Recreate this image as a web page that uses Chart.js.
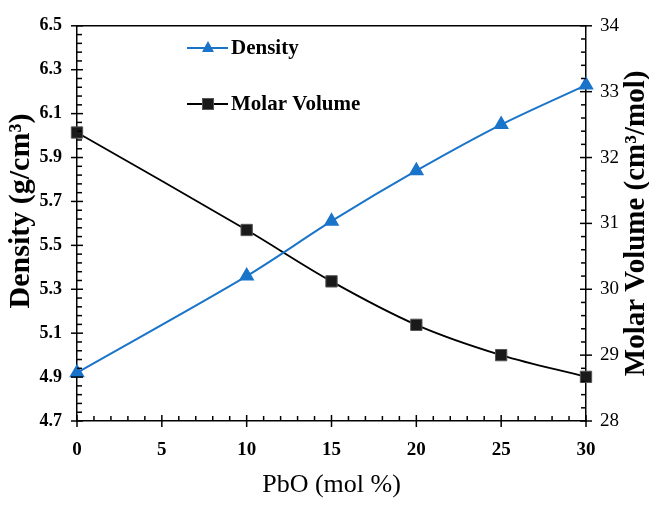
<!DOCTYPE html>
<html>
<head>
<meta charset="utf-8">
<script src="https://cdn.jsdelivr.net/npm/chart.js@4.4.1/dist/chart.umd.min.js"></script>
<style>
  body { margin: 0; background: #fff; }
  #wrap { width: 649px; height: 505px; position: relative; }
</style>
</head>
<body>
<div id="wrap"><canvas id="chart"></canvas></div>
<script>
// PbO content (mol %)
const pbo = [0, 10, 15, 20, 25, 30];
// Density (g/cm3) - left axis
const density = [4.92, 5.36, 5.61, 5.84, 6.05, 6.23];
// Molar volume (cm3/mol) - right axis
const molarVolume = [32.38, 30.90, 30.12, 29.46, 29.00, 28.67];

const xTicks = [0, 5, 10, 15, 20, 25, 30];
const densityTicks = [4.7, 4.9, 5.1, 5.3, 5.5, 5.7, 5.9, 6.1, 6.3, 6.5];
const volumeTicks = [28, 29, 30, 31, 32, 33, 34];

const serif = '"Liberation Serif", "Times New Roman", serif';
const BLUE = '#1a74c9';

function seg(ctx, x1, y1, x2, y2) {
  ctx.beginPath();
  ctx.moveTo(x1, y1);
  ctx.lineTo(x2, y2);
  ctx.stroke();
}

// axis box, minor ticks, titles and legend
const decorations = {
  id: 'decorations',
  afterDraw(chart) {
    const ctx = chart.ctx;
    const a = chart.chartArea;
    const sx = chart.scales.x, sy = chart.scales.y, sy2 = chart.scales.y2;
    ctx.save();
    ctx.strokeStyle = '#000';
    ctx.lineWidth = 1.5;
    seg(ctx, a.left, a.top, a.right, a.top);

    // x ticks: major every 5, minor every 1
    for (let i = 0; i <= 30; i++) {
      const px = sx.getPixelForValue(i);
      if (i % 5 === 0) seg(ctx, px, a.bottom - 6, px, a.bottom + 6);
      else seg(ctx, px, a.bottom, px, a.bottom - 5);
    }
    // left ticks: major 0.2, minor 0.04
    for (let i = 0; i <= 45; i++) {
      const py = sy.getPixelForValue(4.7 + i * 0.04);
      if (i % 5 === 0) seg(ctx, a.left - 6, py, a.left + 6, py);
      else seg(ctx, a.left, py, a.left + 5, py);
    }
    // right ticks: major 1, minor 0.2
    for (let i = 0; i <= 30; i++) {
      const py = sy2.getPixelForValue(28 + i * 0.2);
      if (i % 5 === 0) seg(ctx, a.right - 6, py, a.right + 6, py);
      else seg(ctx, a.right, py, a.right - 5, py);
    }

    // axis titles
    ctx.fillStyle = '#000';
    ctx.textAlign = 'center';
    ctx.textBaseline = 'middle';
    ctx.font = '26px ' + serif;
    ctx.fillText('PbO (mol %)', (a.left + a.right) / 2, 485);

    ctx.font = 'bold 30px ' + serif;
    ctx.save();
    ctx.translate(21, 211);
    ctx.rotate(-Math.PI / 2);
    ctx.fillText('Density (g/cm³)', 0, 0);
    ctx.restore();

    ctx.font = 'bold 29px ' + serif;
    ctx.save();
    ctx.translate(637, (a.top + a.bottom) / 2);
    ctx.rotate(-Math.PI / 2);
    ctx.fillText('Molar Volume (cm³/mol)', 0, 0);
    ctx.restore();

    // legend
    ctx.textAlign = 'left';
    ctx.font = 'bold 21px ' + serif;
    const lx1 = 187, lx2 = 228, mx = 208;
    let ly = 48;
    ctx.strokeStyle = BLUE;
    ctx.lineWidth = 2;
    seg(ctx, lx1, ly, lx2, ly);
    ctx.fillStyle = BLUE;
    ctx.beginPath();
    ctx.moveTo(mx, ly - 7);
    ctx.lineTo(mx + 6, ly + 4);
    ctx.lineTo(mx - 6, ly + 4);
    ctx.closePath();
    ctx.fill();
    ctx.fillStyle = '#000';
    ctx.fillText('Density', 231, ly + 1);

    ly = 104;
    ctx.strokeStyle = '#000';
    ctx.lineWidth = 1.8;
    seg(ctx, lx1, ly, lx2, ly);
    ctx.fillStyle = '#1a1a1a';
    ctx.fillRect(mx - 5.5, ly - 5.5, 11, 11);
    ctx.strokeStyle = '#555';
    ctx.lineWidth = 1;
    ctx.strokeRect(mx - 5.5, ly - 5.5, 11, 11);
    ctx.fillStyle = '#000';
    ctx.fillText('Molar Volume', 231, ly + 1);
    ctx.restore();
  }
};

const ctx = document.getElementById('chart').getContext('2d');
new Chart(ctx, {
  type: 'line',
  data: {
    datasets: [{
      label: 'Density',
      data: pbo.map((x, i) => ({ x: x, y: density[i] })),
      yAxisID: 'y',
      borderColor: BLUE,
      backgroundColor: BLUE,
      borderWidth: 2,
      pointStyle: 'triangle',
      pointRadius: 7,
      pointBorderColor: BLUE,
      pointBackgroundColor: BLUE,
      tension: 0.3,
      clip: false
    }, {
      label: 'Molar Volume',
      data: pbo.map((x, i) => ({ x: x, y: molarVolume[i] })),
      yAxisID: 'y2',
      borderColor: '#000',
      backgroundColor: '#1a1a1a',
      borderWidth: 1.8,
      pointStyle: 'rect',
      pointRadius: 8,
      pointBorderColor: '#555',
      pointBorderWidth: 1,
      pointBackgroundColor: '#1a1a1a',
      tension: 0.35,
      clip: false
    }]
  },
  options: {
    responsive: true,
    maintainAspectRatio: false,
    animation: false,
    layout: { padding: { top: 13, left: 0, right: 0, bottom: 0 } },
    plugins: {
      legend: { display: false },
      tooltip: { enabled: false }
    },
    scales: {
      x: {
        type: 'linear',
        min: 0,
        max: 30,
        afterBuildTicks: s => { s.ticks = xTicks.map(v => ({ value: v })); },
        afterFit: s => { s.height = 84; },
        grid: { display: false, drawTicks: false },
        border: { display: true, color: '#000', width: 1.5 },
        ticks: { color: '#000', padding: 18, font: { family: serif, size: 19, weight: 'bold' } }
      },
      y: {
        position: 'left',
        min: 4.7,
        max: 6.5,
        afterBuildTicks: s => { s.ticks = densityTicks.map(v => ({ value: v })); },
        afterFit: s => { s.width = 77; },
        grid: { display: false, drawTicks: false },
        border: { display: true, color: '#000', width: 1.5 },
        ticks: {
          color: '#000', padding: 15,
          font: { family: serif, size: 18, weight: 'bold' },
          callback: v => v.toFixed(1)
        }
      },
      y2: {
        position: 'right',
        min: 28,
        max: 34,
        afterBuildTicks: s => { s.ticks = volumeTicks.map(v => ({ value: v })); },
        afterFit: s => { s.width = 63; },
        grid: { display: false, drawTicks: false },
        border: { display: true, color: '#000', width: 1.5 },
        ticks: { color: '#000', padding: 14, font: { family: serif, size: 19 } }
      }
    }
  },
  plugins: [decorations]
});
</script>
</body>
</html>
